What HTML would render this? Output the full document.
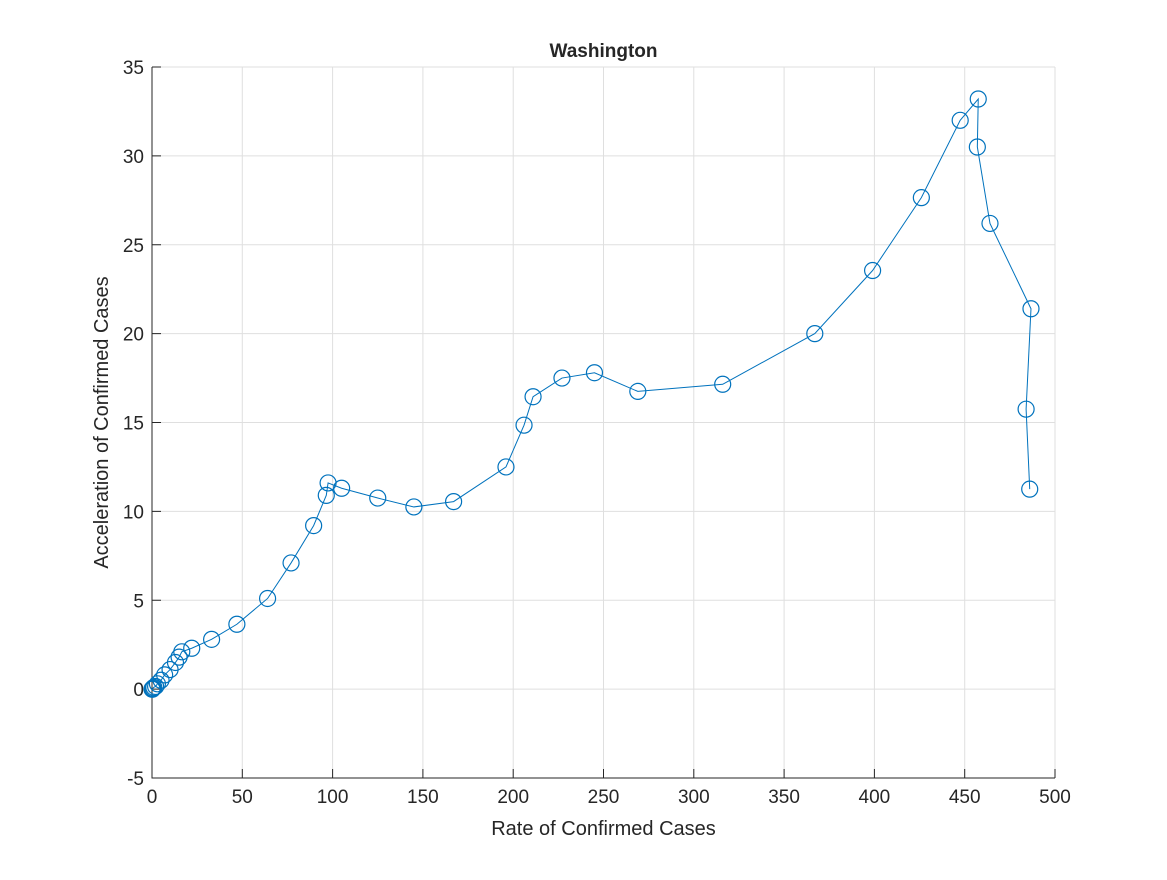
<!DOCTYPE html>
<html><head><meta charset="utf-8"><style>
body{margin:0;background:#fff;}
svg text{font-family:"Liberation Sans",sans-serif;fill:#262626;}
</style></head><body>
<svg id="c" width="1167" height="875"></svg>
<script>
const xs=[0,0.3,0.5,1,2,3,5,7,10,13,15,16.5,22,33,47,64,77,89.5,96.5,97.5,105,125,145,167,196,206,211,227,245,269,316,367,399,426,447.5,457.5,457,464,486.7,484,486];
const ys=[0,0,0.05,0.1,0.15,0.3,0.5,0.8,1.1,1.5,1.8,2.1,2.3,2.8,3.65,5.1,7.1,9.2,10.9,11.6,11.3,10.75,10.25,10.55,12.5,14.85,16.45,17.5,17.8,16.75,17.15,20,23.55,27.65,32,33.2,30.5,26.2,21.4,15.75,11.25];
const xTicks=[0,50,100,150,200,250,300,350,400,450,500];
const yTicks=[-5,0,5,10,15,20,25,30,35];
const L=152,R=1055,T=67,B=778;
const sx=v=>L+(v-0)/500*(R-L), sy=v=>B-(v+5)/40*(B-T);
const NS='http://www.w3.org/2000/svg', svg=document.getElementById('c');
function mk(t,a,p){const e=document.createElementNS(NS,t);for(const k in a)e.setAttribute(k,a[k]);(p||svg).appendChild(e);return e;}
const bg=mk('rect',{x:L,y:T,width:R-L,height:B-T,fill:'#fff'});


xTicks.forEach(v=>{const x=sx(v);
 const g=mk('line',{x1:x,x2:x,y1:T,y2:B,stroke:'#dfdfdf','stroke-width':1});
 
 
 mk('line',{x1:x,x2:x,y1:B,y2:B-9,stroke:'#262626'});
 const t=mk('text',{x:x,y:B+25,'text-anchor':'middle','font-size':19});t.textContent=v;
 
 
});
yTicks.forEach(v=>{const y=sy(v);
 const g=mk('line',{x1:L,x2:R,y1:y,y2:y,stroke:'#dfdfdf','stroke-width':1});
 
 
 mk('line',{x1:L,x2:L+9,y1:y,y2:y,stroke:'#262626'});
 const t=mk('text',{x:L-8,y:y+7,'text-anchor':'end','font-size':19});t.textContent=v;
 
 
});
const ax=mk('path',{d:`M${L},${T}V${B}H${R}`,fill:'none',stroke:'#262626','stroke-width':1});


const pl=mk('polyline',{points:xs.map((v,i)=>sx(v)+','+sy(ys[i])).join(' '),fill:'none',stroke:'#0072bd','stroke-width':1});


xs.forEach((v,i)=>{const c=mk('circle',{cx:sx(v),cy:sy(ys[i]),r:8,fill:'none',stroke:'#0072bd','stroke-width':1.2});
 
 
});
const ti=mk('text',{x:(L+R)/2,y:57,'text-anchor':'middle','font-size':19,'font-weight':'bold',fill:'#000'});ti.textContent='Washington';


const xl=mk('text',{x:(L+R)/2,y:835,'text-anchor':'middle','font-size':20});xl.textContent='Rate of Confirmed Cases';


const yl=mk('text',{x:0,y:0,'text-anchor':'middle','font-size':20,transform:'translate(108,'+((T+B)/2)+') rotate(-90)'});yl.textContent='Acceleration of Confirmed Cases';


</script>
</body></html>
